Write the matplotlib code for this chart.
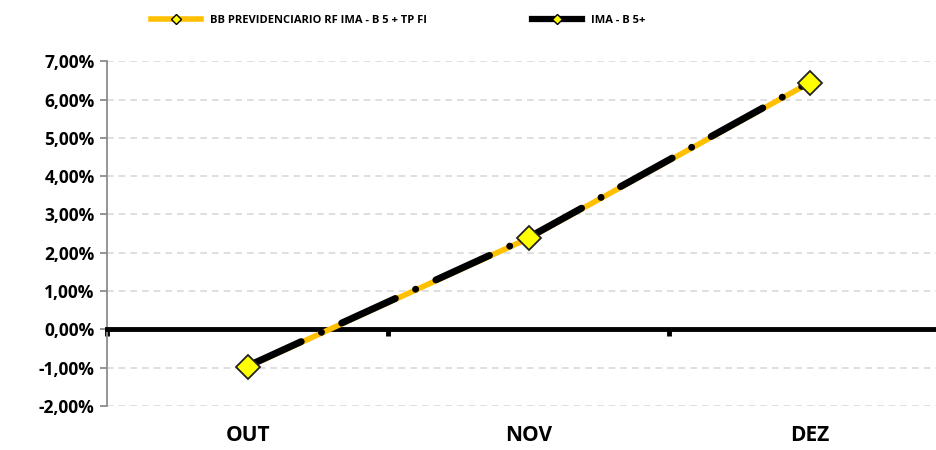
import matplotlib.pyplot as plt
from matplotlib.lines import Line2D
from matplotlib.ticker import FuncFormatter

plt.rcParams['font.family'] = ['Open Sans', 'DejaVu Sans']
plt.rcParams['font.weight'] = 'bold'

meses = ['OUT', 'NOV', 'DEZ']
fundo = [-0.98, 2.38, 6.44]      # BB PREVIDENCIARIO RF IMA - B 5 + TP FI
indice = [-0.96, 2.40, 6.46]     # IMA - B 5+
nome_fundo = 'BB PREVIDENCIARIO RF IMA - B 5 + TP FI'
nome_indice = 'IMA - B 5+'

amarelo = '#FFC000'

fig = plt.figure(figsize=(9.37, 4.5), dpi=100)
ax = fig.add_axes([0.1142, 0.0978, 0.9, 0.766])

x = list(range(len(meses)))
ax.plot(x, fundo, color=amarelo, lw=4, zorder=3)
ax.plot(x, indice, color='black', lw=5, dashes=(8.5, 3.2, 0.01, 3.2),
        dash_capstyle='round', zorder=4)
ax.plot(x, fundo, ls='none', marker='D', ms=12, mfc='#FFFF00', mec='#222222',
        mew=1.3, zorder=5)

ax.set_xlim(-0.5, 2.5)
ax.set_ylim(-2, 7)
ax.set_yticks(range(-2, 8))
ax.yaxis.set_major_formatter(FuncFormatter(lambda v, p: f'{v:.2f}%'.replace('.', ',')))
ax.grid(axis='y', color='#D9D9D9', ls=(0, (4, 3)), lw=1.2)
ax.set_axisbelow(True)

for s in ['top', 'right']:
    ax.spines[s].set_visible(False)
ax.spines['left'].set_color('#8C8C8C')
ax.spines['left'].set_linewidth(1.3)
ax.tick_params(axis='y', colors='#8C8C8C', length=5, width=1.3, labelsize=12.5,
               labelcolor='black', pad=4)

ax.spines['bottom'].set_position(('data', 0))
ax.spines['bottom'].set_color('black')
ax.spines['bottom'].set_linewidth(3.5)
ax.set_xticks([-0.5, 0.5, 1.5])
ax.tick_params(axis='x', length=5, width=3.5, color='black', labelbottom=False)

sec = ax.secondary_xaxis('bottom')
sec.set_xticks(x, meses)
sec.spines['bottom'].set_visible(False)
sec.tick_params(length=0, labelsize=15, pad=14)

handles = [
    Line2D([], [], color=amarelo, lw=4, marker='D', ms=5, mfc='#FFFF00', mec='black'),
    Line2D([], [], color='black', lw=4.5, marker='D', ms=5, mfc='#FFFF00', mec='black'),
]
fig.legend(handles, [nome_fundo, nome_indice], loc='center', bbox_to_anchor=(0.425, 0.955),
           ncol=2, frameon=False, fontsize=8, columnspacing=9.5, handlelength=4.5)

fig.savefig('out.png', dpi=100)
